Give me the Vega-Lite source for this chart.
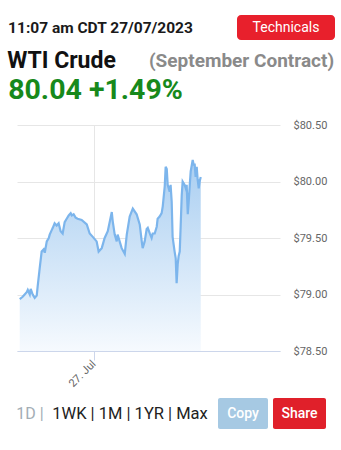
{
  "$schema": "https://vega.github.io/schema/vega-lite/v6.json",
  "padding": {"top": 15, "left": 0, "right": 0, "bottom": 0},
  "background": "white",
  "spacing": 0,
  "config": {"view": {"stroke": null}, "font": "Roboto"},
  "vconcat": [
    {
      "hconcat": [
        {
          "width": 201, "height": 25,
          "data": {"values": [{"label": "11:07 am CDT 27/07/2023"}]},
          "mark": {"type": "text", "font": "Roboto", "fontSize": 15.5, "fontWeight": "bold", "color": "#1a1a1a", "baseline": "middle"},
          "encoding": {"text": {"field": "label"}}
        },
        {
          "width": 98, "height": 25,
          "view": {"fill": "#e8202c", "stroke": null, "cornerRadius": 4},
          "data": {"values": [{"label": "Technicals"}]},
          "mark": {"type": "text", "font": "Roboto", "fontSize": 14, "color": "white", "baseline": "middle"},
          "encoding": {"text": {"field": "label"}}
        }
      ],
      "spacing": 36,
      "bounds": "flush"
    },
    {
      "width": 1, "height": 7,
      "data": {"values": []},
      "mark": {"type": "text"},
      "encoding": {}
    },
    {
      "hconcat": [
        {
          "width": 123, "height": 28.2,
          "data": {"values": [{"label": "WTI Crude"}]},
          "mark": {"type": "text", "font": "Roboto", "fontSize": 23, "fontWeight": "bold", "color": "#111111", "baseline": "middle"},
          "encoding": {"text": {"field": "label"}}
        },
        {
          "width": 187, "height": 28.2,
          "data": {"values": [{"label": "(September Contract)"}]},
          "mark": {"type": "text", "font": "Roboto", "fontSize": 19, "fontWeight": "bold", "color": "#8a8a8a", "baseline": "middle"},
          "encoding": {"text": {"field": "label"}}
        }
      ],
      "spacing": 25,
      "bounds": "flush"
    },
    {
      "width": 191, "height": 28.5,
      "data": {"values": [{"label": "80.04 +1.49%"}]},
      "mark": {"type": "text", "font": "Roboto", "fontSize": 28.5, "fontWeight": "bold", "color": "#17891b", "baseline": "middle"},
      "encoding": {"text": {"field": "label"}}
    },
    {
      "width": 1, "height": 13.8,
      "data": {"values": []},
      "mark": {"type": "text"},
      "encoding": {}
    },
    {
      "hconcat": [
        {
          "width": 1, "height": 226,
          "data": {"values": []},
          "mark": {"type": "text"},
          "encoding": {}
        },
        {
          "width": 263, "height": 226,
          "data": {"values": [
            {"t": "2023-07-26T17:15", "price": 78.96},
            {"t": "2023-07-26T17:31", "price": 78.98},
            {"t": "2023-07-26T17:42", "price": 79.00},
            {"t": "2023-07-26T17:53", "price": 79.02},
            {"t": "2023-07-26T17:59", "price": 79.04},
            {"t": "2023-07-26T18:10", "price": 79.00},
            {"t": "2023-07-26T18:15", "price": 79.05},
            {"t": "2023-07-26T18:26", "price": 79.00},
            {"t": "2023-07-26T18:37", "price": 78.97},
            {"t": "2023-07-26T18:48", "price": 78.99},
            {"t": "2023-07-26T18:53", "price": 79.07},
            {"t": "2023-07-26T19:04", "price": 79.23},
            {"t": "2023-07-26T19:15", "price": 79.38},
            {"t": "2023-07-26T19:26", "price": 79.40},
            {"t": "2023-07-26T19:32", "price": 79.37},
            {"t": "2023-07-26T19:43", "price": 79.47},
            {"t": "2023-07-26T19:54", "price": 79.50},
            {"t": "2023-07-26T19:59", "price": 79.53},
            {"t": "2023-07-26T20:10", "price": 79.57},
            {"t": "2023-07-26T20:16", "price": 79.59},
            {"t": "2023-07-26T20:26", "price": 79.63},
            {"t": "2023-07-26T20:37", "price": 79.61},
            {"t": "2023-07-26T20:48", "price": 79.63},
            {"t": "2023-07-26T20:59", "price": 79.56},
            {"t": "2023-07-26T21:10", "price": 79.54},
            {"t": "2023-07-26T21:21", "price": 79.64},
            {"t": "2023-07-26T21:32", "price": 79.67},
            {"t": "2023-07-26T21:43", "price": 79.70},
            {"t": "2023-07-26T21:54", "price": 79.72},
            {"t": "2023-07-26T22:00", "price": 79.70},
            {"t": "2023-07-26T22:10", "price": 79.71},
            {"t": "2023-07-26T22:21", "price": 79.68},
            {"t": "2023-07-26T22:32", "price": 79.67},
            {"t": "2023-07-26T22:54", "price": 79.66},
            {"t": "2023-07-26T23:22", "price": 79.62},
            {"t": "2023-07-26T23:38", "price": 79.54},
            {"t": "2023-07-26T23:55", "price": 79.51},
            {"t": "2023-07-27T00:16", "price": 79.47},
            {"t": "2023-07-27T00:27", "price": 79.38},
            {"t": "2023-07-27T00:44", "price": 79.41},
            {"t": "2023-07-27T01:00", "price": 79.50},
            {"t": "2023-07-27T01:17", "price": 79.56},
            {"t": "2023-07-27T01:39", "price": 79.73},
            {"t": "2023-07-27T01:44", "price": 79.65},
            {"t": "2023-07-27T01:55", "price": 79.53},
            {"t": "2023-07-27T02:06", "price": 79.47},
            {"t": "2023-07-27T02:11", "price": 79.53},
            {"t": "2023-07-27T02:33", "price": 79.41},
            {"t": "2023-07-27T02:50", "price": 79.36},
            {"t": "2023-07-27T03:01", "price": 79.53},
            {"t": "2023-07-27T03:17", "price": 79.69},
            {"t": "2023-07-27T03:34", "price": 79.76},
            {"t": "2023-07-27T03:55", "price": 79.71},
            {"t": "2023-07-27T04:12", "price": 79.62},
            {"t": "2023-07-27T04:23", "price": 79.47},
            {"t": "2023-07-27T04:28", "price": 79.41},
            {"t": "2023-07-27T04:39", "price": 79.47},
            {"t": "2023-07-27T04:50", "price": 79.58},
            {"t": "2023-07-27T04:56", "price": 79.59},
            {"t": "2023-07-27T05:07", "price": 79.54},
            {"t": "2023-07-27T05:17", "price": 79.50},
            {"t": "2023-07-27T05:23", "price": 79.54},
            {"t": "2023-07-27T05:34", "price": 79.54},
            {"t": "2023-07-27T05:45", "price": 79.60},
            {"t": "2023-07-27T05:50", "price": 79.67},
            {"t": "2023-07-27T06:01", "price": 79.69},
            {"t": "2023-07-27T06:12", "price": 79.72},
            {"t": "2023-07-27T06:18", "price": 79.78},
            {"t": "2023-07-27T06:29", "price": 79.96},
            {"t": "2023-07-27T06:34", "price": 80.13},
            {"t": "2023-07-27T06:40", "price": 80.11},
            {"t": "2023-07-27T06:45", "price": 79.97},
            {"t": "2023-07-27T06:56", "price": 79.91},
            {"t": "2023-07-27T07:01", "price": 79.97},
            {"t": "2023-07-27T07:07", "price": 79.82},
            {"t": "2023-07-27T07:12", "price": 79.51},
            {"t": "2023-07-27T07:23", "price": 79.38},
            {"t": "2023-07-27T07:29", "price": 79.32},
            {"t": "2023-07-27T07:34", "price": 79.10},
            {"t": "2023-07-27T07:40", "price": 79.27},
            {"t": "2023-07-27T07:45", "price": 79.34},
            {"t": "2023-07-27T07:51", "price": 79.38},
            {"t": "2023-07-27T07:56", "price": 79.60},
            {"t": "2023-07-27T08:02", "price": 79.88},
            {"t": "2023-07-27T08:07", "price": 80.00},
            {"t": "2023-07-27T08:18", "price": 79.97},
            {"t": "2023-07-27T08:24", "price": 79.94},
            {"t": "2023-07-27T08:29", "price": 79.97},
            {"t": "2023-07-27T08:35", "price": 79.71},
            {"t": "2023-07-27T08:40", "price": 79.82},
            {"t": "2023-07-27T08:46", "price": 79.97},
            {"t": "2023-07-27T08:51", "price": 80.09},
            {"t": "2023-07-27T09:02", "price": 80.19},
            {"t": "2023-07-27T09:07", "price": 80.15},
            {"t": "2023-07-27T09:13", "price": 80.15},
            {"t": "2023-07-27T09:18", "price": 80.04},
            {"t": "2023-07-27T09:24", "price": 80.13},
            {"t": "2023-07-27T09:29", "price": 80.02},
            {"t": "2023-07-27T09:35", "price": 79.94},
            {"t": "2023-07-27T09:40", "price": 80.00},
            {"t": "2023-07-27T09:46", "price": 80.04}
          ]},
          "encoding": {
            "x": {
              "field": "t", "type": "temporal",
              "scale": {"domain": [{"year": 2023, "month": 7, "date": 26, "hours": 17}, {"year": 2023, "month": 7, "date": 27, "hours": 17}]},
              "axis": {
                "title": null,
                "values": [{"year": 2023, "month": 7, "date": 27}],
                "format": "%d. %b",
                "labelAngle": -45, "labelAlign": "right", "labelBaseline": "middle",
                "labelColor": "#666666", "labelFontSize": 11, "labelFont": "Roboto", "labelPadding": 2,
                "grid": true, "gridColor": "#e6e6e6",
                "domainColor": "#ccd6eb", "tickColor": "#ccd6eb", "tickSize": 9
              }
            },
            "y": {
              "field": "price", "type": "quantitative",
              "scale": {"domain": [78.5, 80.5], "nice": false, "zero": false},
              "axis": {
                "title": null, "orient": "right",
                "values": [78.5, 79, 79.5, 80, 80.5],
                "format": "$.2f",
                "labelColor": "#666666", "labelFontSize": 11, "labelFont": "Roboto",
                "ticks": false, "domain": false, "labelPadding": 13,
                "gridColor": "#e6e6e6"
              }
            }
          },
          "layer": [
            {
              "mark": {
                "type": "area",
                "color": {
                  "gradient": "linear", "x1": 0, "y1": 0, "x2": 0, "y2": 1,
                  "stops": [{"offset": 0, "color": "#a9cef1"}, {"offset": 1, "color": "#f6fafe"}]
                }
              },
              "encoding": {"y2": {"datum": 78.5}}
            },
            {
              "mark": {"type": "line", "color": "#7cb5ec", "strokeWidth": 2.2}
            }
          ]
        }
      ],
      "spacing": 16,
      "bounds": "flush"
    },
    {
      "width": 1, "height": 9,
      "data": {"values": []},
      "mark": {"type": "text"},
      "encoding": {}
    },
    {
      "hconcat": [
        {
          "width": 60, "height": 31,
          "data": {"values": [{"label": "1D |"}]},
          "mark": {"type": "text", "font": "Roboto", "fontSize": 16, "color": "#a3adb5", "baseline": "middle"},
          "encoding": {"text": {"field": "label"}}
        },
        {
          "width": 130, "height": 31,
          "data": {"values": [{"label": "1WK | 1M | 1YR | Max"}]},
          "mark": {"type": "text", "font": "Roboto", "fontSize": 16.5, "color": "#222222", "baseline": "middle"},
          "encoding": {"text": {"field": "label"}}
        },
        {
          "width": 13, "height": 31,
          "data": {"values": []},
          "mark": {"type": "text"},
          "encoding": {}
        },
        {
          "width": 50, "height": 31,
          "view": {"fill": "#a6c9e3", "stroke": null, "cornerRadius": 2},
          "data": {"values": [{"label": "Copy"}]},
          "mark": {"type": "text", "font": "Roboto", "fontSize": 14, "fontWeight": 500, "color": "white", "baseline": "middle"},
          "encoding": {"text": {"field": "label"}}
        },
        {
          "width": 53, "height": 31,
          "view": {"fill": "#e0202a", "stroke": null, "cornerRadius": 2},
          "data": {"values": [{"label": "Share"}]},
          "mark": {"type": "text", "font": "Roboto", "fontSize": 14, "fontWeight": 500, "color": "white", "baseline": "middle"},
          "encoding": {"text": {"field": "label"}}
        }
      ],
      "spacing": 5,
      "bounds": "flush"
    }
  ]
}
